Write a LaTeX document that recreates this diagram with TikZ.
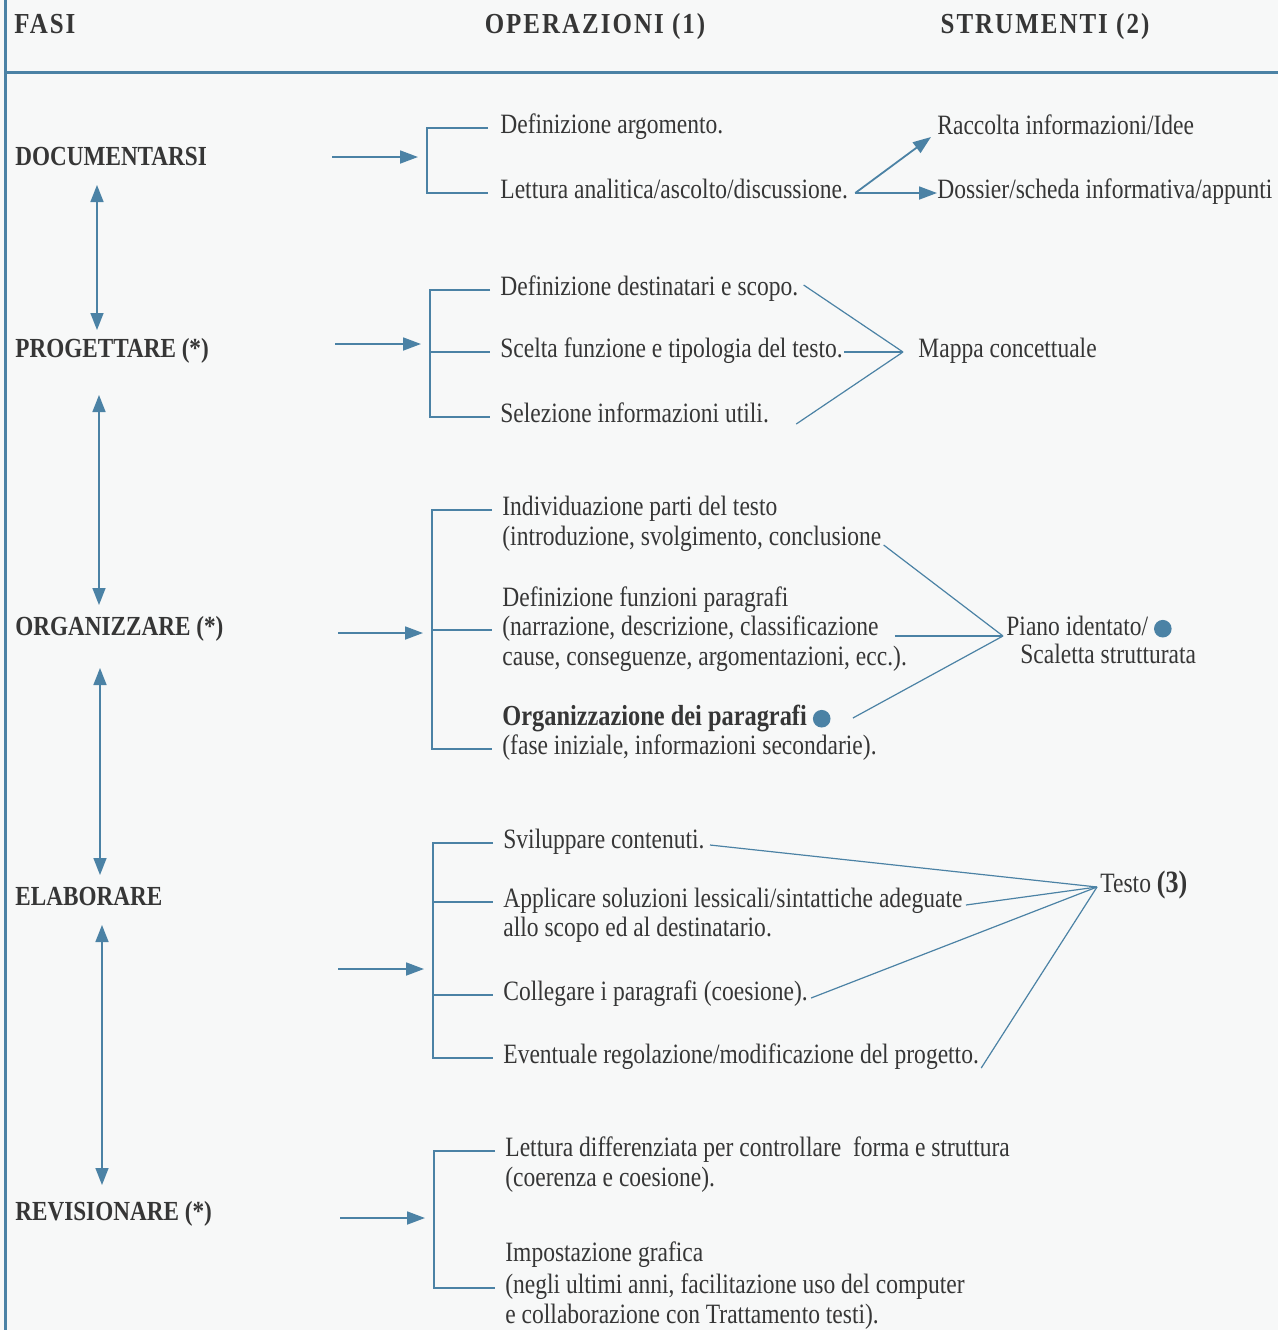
\documentclass[tikz,border=0pt]{standalone}
\usepackage{fontspec}
\setmainfont{Liberation Serif}[FakeStretch=0.84]
\newfontfamily\headfont{Liberation Serif}[FakeStretch=0.86, LetterSpace=7]
\usetikzlibrary{arrows.meta,calc}

\definecolor{lineblue}{HTML}{4B82A5}
\definecolor{inkgray}{HTML}{363636}
\definecolor{paper}{HTML}{F7F8F8}

\newcommand{\bluedot}{\tikz[baseline=-3.4pt]\fill[lineblue] (0,0) circle [radius=4.4pt];}

\tikzstyle{txt} = [anchor=west, inner sep=0pt, text height=9pt, text depth=3.5pt,
    text=inkgray, font=\fontsize{14}{17}\selectfont]
\tikzstyle{oper} = [txt]
\tikzstyle{operbold} = [txt, font=\fontsize{14.5}{17}\selectfont\bfseries]
\tikzstyle{tool} = [txt]
\tikzstyle{phase} = [txt, font=\fontsize{13.8}{17}\selectfont\bfseries]
\tikzstyle{head} = [txt, anchor=center, font=\headfont\fontsize{14.5}{17}\selectfont\bfseries]
\tikzstyle{frame} = [draw=lineblue, line width=1.5pt]
\tikzstyle{link} = [draw=lineblue, line width=0.6pt]
\tikzstyle{arrowline} = [link, line width=0.9pt, -{Triangle[length=9pt,width=6.5pt]}]
\tikzstyle{dblarrow} = [link, line width=0.8pt,
    {Triangle[length=8.5pt,width=6.5pt]}-{Triangle[length=8.5pt,width=6.5pt]}]

\begin{document}
\begin{tikzpicture}[x=0.5pt, y=-0.5pt]
    \fill [paper] (0,0) rectangle (1278,1330);
    \useasboundingbox (0,0) rectangle (1278,1330);
    \draw [frame] (5,0) -- (5,1330);
    \draw [frame] (5,72) -- (1278,72);

    % headings
    \node [head, anchor=west] (fasi) at (14,28) {FASI};
    \node [head] (operazioni) at (595,28) {OPERAZIONI (1)};
    \node [head] (strumenti) at (1045,28) {STRUMENTI (2)};

    % phases
    \node [phase] (doc) at (15,160) {DOCUMENTARSI};
    \node [phase] (prog) at (15,352) {PROGETTARE (*)};
    \node [phase] (org) at (15,630) {ORGANIZZARE (*)};
    \node [phase] (elab) at (15,900) {ELABORARE};
    \node [phase] (rev) at (15,1215) {REVISIONARE (*)};

    \draw [dblarrow] ($(doc.west)+(82,25)$) -- ($(prog.west)+(82,-22)$);
    \draw [dblarrow] ($(prog.west)+(84,43)$) -- ($(org.west)+(84,-25)$);
    \draw [dblarrow] ($(org.west)+(85,38)$) -- ($(elab.west)+(85,-25)$);
    \draw [dblarrow] ($(elab.west)+(87,25)$) -- ($(rev.west)+(87,-30)$);

    % operations
    \node [oper] (doc1) at (500,128) {Definizione argomento.};
    \node [oper] (doc2) at (500,193) {Lettura analitica/ascolto/discussione.};

    \node [oper] (prog1) at (500,290) {Definizione destinatari e scopo.};
    \node [oper] (prog2) at (500,352) {Scelta funzione e tipologia del testo.};
    \node [oper] (prog3) at (500,417) {Selezione informazioni utili.};

    \node [oper] (org1a) at (502,510) {Individuazione parti del testo};
    \node [oper] (org1b) at (502,540) {(introduzione, svolgimento, conclusione};
    \node [oper] (org2a) at (502,601) {Definizione funzioni paragrafi};
    \node [oper] (org2b) at (502,630) {(narrazione, descrizione, classificazione};
    \node [oper] (org2c) at (502,660) {cause, conseguenze, argomentazioni, ecc.).};
    \node [operbold] (org3a) at (502,720) {Organizzazione dei paragrafi \bluedot};
    \node [oper] (org3b) at (502,749) {(fase iniziale, informazioni secondarie).};

    \node [oper] (elab1) at (503,843) {Sviluppare contenuti.};
    \node [oper] (elab2a) at (503,902) {Applicare soluzioni lessicali/sintattiche adeguate};
    \node [oper] (elab2b) at (503,931) {allo scopo ed al destinatario.};
    \node [oper] (elab3) at (503,995) {Collegare i paragrafi (coesione).};
    \node [oper] (elab4) at (503,1058) {Eventuale regolazione/modificazione del progetto.};

    \node [oper] (rev1a) at (505,1151) {Lettura differenziata per controllare\ \ forma e struttura};
    \node [oper] (rev1b) at (505,1181) {(coerenza e coesione).};
    \node [oper] (rev2a) at (505,1256) {Impostazione grafica};
    \node [oper] (rev2b) at (505,1288) {(negli ultimi anni, facilitazione uso del computer};
    \node [oper] (rev2c) at (505,1318) {e collaborazione con Trattamento testi).};

    % tools
    \node [tool] (racc) at (937,129) {Raccolta informazioni/Idee};
    \node [tool] (doss) at (937,193) {Dossier/scheda informativa/appunti};
    \node [tool] (mappa) at (918,352) {Mappa concettuale};
    \node [tool] (piano1) at (1006,630) {Piano identato/ \bluedot};
    \node [tool] (piano2) at (1020,658) {Scaletta strutturata};
    \node [tool] (testo) at (1100,887) {Testo {\fontsize{15.5}{17}\selectfont\bfseries(3)}};

    % brackets
    \coordinate (b1) at (427,157);
    \coordinate (b2) at (430,344);
    \coordinate (b3) at (432,633);
    \coordinate (b4) at (433,969);
    \coordinate (b5) at (434,1218);

    \draw [link] ([xshift=-6pt]doc1.west) -| (b1) |- ([xshift=-6pt]doc2.west);
    \draw [link] ([xshift=-5pt]prog1.west) -| (b2) |- ([xshift=-5pt]prog3.west);
    \draw [link] (b2 |- prog2.west) -- ([xshift=-5pt]prog2.west);
    \draw [link] ([xshift=-5pt]org1a.west) -| (b3) |- ([xshift=-5pt]org3b.west);
    \draw [link] (b3 |- org2b.west) -- ([xshift=-5pt]org2b.west);
    \draw [link] ([xshift=-5pt]elab1.west) -| (b4) |- ([xshift=-5pt]elab4.west);
    \draw [link] (b4 |- elab2a.west) -- ([xshift=-5pt]elab2a.west);
    \draw [link] (b4 |- elab3.west) -- ([xshift=-5pt]elab3.west);
    \draw [link] ([xshift=-5pt]rev1a.west) -| (b5) |- ([xshift=-5pt]rev2b.west);

    % phase -> operations
    \coordinate (in1) at (332,157);
    \coordinate (in2) at (335,344);
    \coordinate (in3) at (338,633);
    \coordinate (in4) at (338,969);
    \coordinate (in5) at (340,1218);
    \foreach \i in {1,...,5}
        \draw [arrowline, shorten >=4.5pt] (in\i) -- (b\i);

    % operations -> tools
    \coordinate (v1) at ($(doc2.east)+(7,0)$);
    \draw [arrowline] (v1) -- ($(racc.west)+(-6,8)$);
    \draw [arrowline] (v1) -- (doss.west);

    \coordinate (v2) at ($(mappa.west)+(-15,0)$);
    \draw [link] ($(prog1.east)+(5,-5)$) -- (v2);
    \draw [link] ($(prog2.east)+(1,0)$) -- (v2);
    \draw [link] ($(prog3.east)+(27,7)$) -- (v2);

    \coordinate (v3) at ($(piano1.west)+(-3,6)$);
    \draw [link] ($(org1b.east)+(2,5)$) -- (v3);
    \draw [link] ($(org2b.east)+(16,6)$) -- (v3);
    \draw [link] ($(org3a.east)+(22,-2)$) -- (v3);

    \coordinate (v4) at ($(testo.west)+(-3,0)$);
    \draw [link] ($(elab1.east)+(5,2)$) -- (v4);
    \draw [link] ($(elab2a.east)+(3,3)$) -- (v4);
    \draw [link] ($(elab3.east)+(3,3)$) -- (v4);
    \draw [link] ($(elab4.east)+(2,10)$) -- (v4);
\end{tikzpicture}
\end{document}
